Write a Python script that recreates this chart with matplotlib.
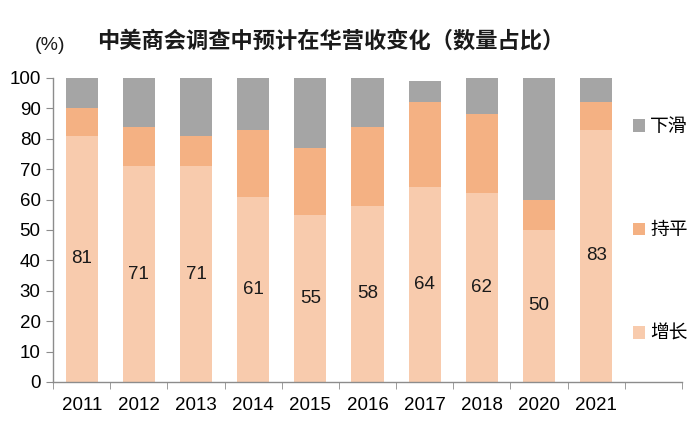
import matplotlib
matplotlib.use("Agg")
import matplotlib.pyplot as plt
import numpy as np

plt.rcParams["font.family"] = ["Liberation Sans", "Noto Sans CJK SC", "DejaVu Sans"]

# data
years = ["2011", "2012", "2013", "2014", "2015", "2016", "2017", "2018", "2020", "2021"]
growth = [81, 71, 71, 61, 55, 58, 64, 62, 50, 83]
flat = [9, 13, 10, 22, 22, 26, 28, 26, 10, 9]
decline = [10, 16, 19, 17, 23, 16, 7, 12, 40, 8]

series_names = ["增长", "持平", "下滑"]
colors = ["#F8CBAD", "#F4B183", "#A5A5A5"]
axis_grey = "#8C8C8C"

fig = plt.figure(figsize=(7, 4.38), dpi=100)
ax = fig.add_axes([0.076, 0.128, 0.898, 0.694])

x = np.arange(len(years))
bar_w = 0.565
bottom = np.zeros(len(years))
handles = []
for vals, name, col in zip([growth, flat, decline], series_names, colors):
    h = ax.bar(x, vals, bottom=bottom, width=bar_w, color=col, label=name, zorder=2)
    handles.append(h)
    bottom += np.array(vals)

# value labels inside the growth segment
for xi, v in zip(x, growth):
    ax.text(xi, v / 2, str(v), ha="center", va="center", fontsize=13.5, color="#1a1a1a")

# extra empty slot on the right, like the original
ax.set_xlim(-0.5, len(years) + 0.5)
ax.set_ylim(0, 100)
ax.set_yticks(range(0, 101, 10))
ax.set_xticks(x)
ax.set_xticklabels(years)
ax.set_xticks(np.arange(-0.5, len(years) + 1, 1), minor=True)
ax.tick_params(axis="x", which="major", length=0, pad=11, labelsize=13.5)
ax.tick_params(axis="x", which="minor", length=5, color=axis_grey, direction="out")
ax.tick_params(axis="y", length=5, color=axis_grey, direction="out", labelsize=13.5, pad=4)

for side in ["top", "right"]:
    ax.spines[side].set_visible(False)
for side in ["left", "bottom"]:
    ax.spines[side].set_color(axis_grey)
    ax.spines[side].set_linewidth(1.0)

# legend: top to bottom 下滑 / 持平 / 增长
fig.legend(
    handles[::-1],
    series_names[::-1],
    loc="center left",
    bbox_to_anchor=(0.893, 0.475),
    frameon=False,
    handlelength=0.65,
    handleheight=0.65,
    handletextpad=0.3,
    labelspacing=4.4,
    borderaxespad=0,
    prop={"family": ["Noto Sans CJK SC"], "size": 13.5},
)

fig.text(0.05, 0.897, "(%)", fontsize=14, ha="left", va="center", color="#1a1a1a")
fig.text(0.472, 0.905, "中美商会调查中预计在华营收变化（数量占比）",
         fontsize=16, fontweight="bold", ha="center", va="center",
         family=["Noto Sans CJK SC", "DejaVu Sans"], color="#1a1a1a")

fig.savefig("out.png", dpi=100)
